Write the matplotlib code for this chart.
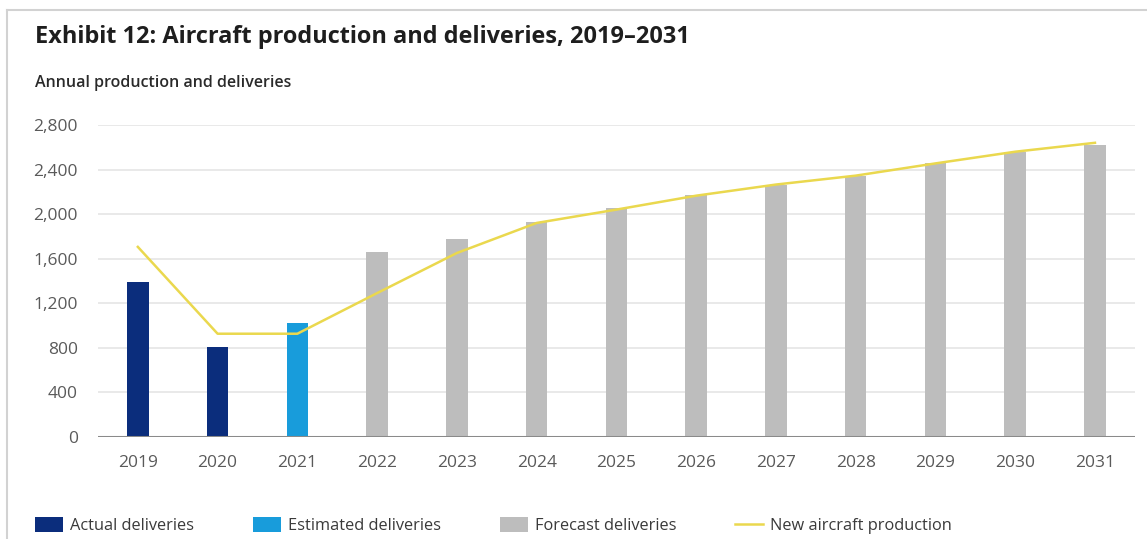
import matplotlib.pyplot as plt
from matplotlib.lines import Line2D
from matplotlib.patches import Patch
from matplotlib.ticker import FuncFormatter

plt.rcParams['font.family'] = ['Open Sans', 'DejaVu Sans']

years = ['2019', '2020', '2021', '2022', '2023', '2024', '2025',
         '2026', '2027', '2028', '2029', '2030', '2031']
deliveries = [1390, 805, 1020, 1660, 1775, 1930, 2050,
              2170, 2260, 2340, 2455, 2555, 2620]
delivery_kind = ['actual', 'actual', 'estimated'] + ['forecast'] * 10
production = [1705, 925, 925, 1290, 1650, 1920, 2040,
              2165, 2265, 2345, 2455, 2560, 2640]
y_ticks = [0, 400, 800, 1200, 1600, 2000, 2400, 2800]

colors = {'actual': '#0B2D7C', 'estimated': '#189CDB', 'forecast': '#BDBDBD'}
line_color = '#EAD84E'
label_color = '#5A5A5A'

fig = plt.figure(figsize=(11.47, 5.39), dpi=100)
ax = fig.add_axes([0.0854, 0.1898, 0.904, 0.5783])

x = list(range(len(years)))
ax.bar(x, deliveries, width=0.27, color=[colors[k] for k in delivery_kind], zorder=2)
ax.plot(x, production, color=line_color, linewidth=1.8, zorder=3)

ax.set_xlim(-0.5, len(years) - 0.5)
ax.set_ylim(0, 2800)
ax.set_yticks(y_ticks)
ax.yaxis.set_major_formatter(FuncFormatter(lambda v, p: f'{int(v):,}'))
ax.set_xticks(x)
ax.set_xticklabels(years)
ax.tick_params(length=0, labelsize=12.5, labelcolor=label_color)
ax.tick_params(axis='y', pad=14.5)
ax.tick_params(axis='x', pad=13)

for s in ax.spines.values():
    s.set_visible(False)
for t in y_ticks[1:]:
    ax.axhline(t, color='#E5E5E5', linewidth=1.2, zorder=1)
ax.axhline(0, color='#8A8A8A', linewidth=2.2, zorder=4)

fig.text(0.0305, 0.931, 'Exhibit 12: Aircraft production and deliveries, 2019\u20132031',
         fontsize=16.9, fontweight='bold', color='#1E1E1E', va='center')
fig.text(0.0305, 0.846, 'Annual production and deliveries',
         fontsize=11.5, fontweight='semibold', color='#2A2A2A', va='center')

handles = [
    Patch(facecolor=colors['actual'], label='Actual deliveries'),
    Patch(facecolor=colors['estimated'], label='Estimated deliveries'),
    Patch(facecolor=colors['forecast'], label='Forecast deliveries'),
    Line2D([], [], color=line_color, linewidth=1.8, label='New aircraft production'),
]
leg = fig.legend(handles=handles, loc='center left', bbox_to_anchor=(0.0235, 0.025),
                 ncol=4, frameon=False, fontsize=11.8, borderpad=0, handlelength=1.7,
                 handleheight=1.04, handletextpad=0.43, columnspacing=3.6)
for t in leg.get_texts():
    t.set_color('#3A3A3A')

# page frame on the top and left
fig.add_artist(Line2D([7 / 1147, 1], [1 - 10 / 539] * 2, transform=fig.transFigure,
                      color='#D2D2D2', linewidth=1.5))
fig.add_artist(Line2D([7 / 1147] * 2, [0, 1 - 10 / 539], transform=fig.transFigure,
                      color='#D2D2D2', linewidth=1.5))

fig.savefig('out.png', dpi=100)
